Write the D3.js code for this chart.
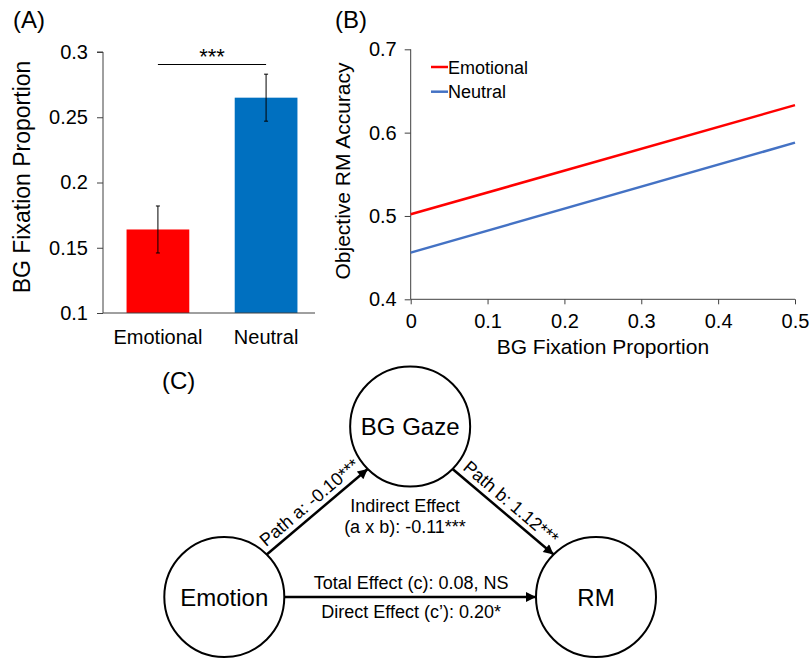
<!DOCTYPE html>
<html>
<head>
<meta charset="utf-8">
<script src="https://cdn.jsdelivr.net/npm/d3@7"></script>
<style>
  body { margin: 0; background: #fff; }
  svg { display: block; font-family: "Liberation Sans", Arial, sans-serif; }
  .domain, .tick line { stroke: #404040; }
  .tick text { fill: #000; }
</style>
</head>
<body>
<svg id="chart"></svg>
<script>
// Panel A data
const barCategories = ['Emotional', 'Neutral'];
const barMeans = [0.164, 0.265];
const barErrors = [0.018, 0.018];
const barColors = ['#FF0000', '#0070C0'];
const barTicks = [0.1, 0.15, 0.2, 0.25, 0.3];
const barSig = '***';

// Panel B data
const lineSeries = ['Emotional', 'Neutral'];
const lineX = [0, 0.5];
const emotionalY = [0.502, 0.633];
const neutralY = [0.456, 0.588];
const lineColors = ['#FF0000', '#4472C4'];
const lineXTicks = [0, 0.1, 0.2, 0.3, 0.4, 0.5];
const lineYTicks = [0.4, 0.5, 0.6, 0.7];

// Panel C data
const nodeNames = ['Emotion', 'BG Gaze', 'RM'];
const nodeCols = [0, 1, 2];
const nodeRows = [1, 0, 1];
const pathLabels = ['Path a: -0.10***', 'Path b: 1.12***'];
const indirectLabels = ['Indirect Effect', '(a x b): -0.11***'];
const totalLabel = 'Total Effect (c): 0.08, NS';
const directLabel = 'Direct Effect (c\u2019): 0.20*';

const W = 811, H = 658;
const svg = d3.select('#chart').attr('width', W).attr('height', H);

svg.append('defs').append('marker')
    .attr('id', 'arrow')
    .attr('viewBox', '0 0 10 10')
    .attr('refX', 10).attr('refY', 5)
    .attr('markerUnits', 'userSpaceOnUse')
    .attr('markerWidth', 12).attr('markerHeight', 10)
    .attr('orient', 'auto')
    .append('path').attr('d', 'M0,0L10,5L0,10z').attr('fill', '#000');

// ---------- (A) bar chart ----------
const gA = svg.append('g');
gA.append('text').attr('x', 13).attr('y', 28).attr('font-size', '24px').text('(A)');

const yA = d3.scaleLinear().domain([0.1, 0.3]).range([313, 52]);
const xA = d3.scaleBand().domain(barCategories).range([106, 318])
    .paddingInner(0.42).paddingOuter(0.19);

gA.selectAll('.bar')
    .data(barCategories)
    .enter().append('rect')
    .attr('x', d => xA(d))
    .attr('width', xA.bandwidth())
    .attr('y', (d, i) => yA(barMeans[i]))
    .attr('height', (d, i) => yA(0.1) - yA(barMeans[i]))
    .attr('fill', (d, i) => barColors[i]);

// error bars
const eb = gA.selectAll('.err').data(barCategories).enter().append('g')
    .attr('stroke', '#000').attr('stroke-width', 1);
eb.append('line')
    .attr('x1', d => xA(d) + xA.bandwidth() / 2).attr('x2', d => xA(d) + xA.bandwidth() / 2)
    .attr('y1', (d, i) => yA(barMeans[i] + barErrors[i]))
    .attr('y2', (d, i) => yA(barMeans[i] - barErrors[i]));
[1, -1].forEach(s => {
    eb.append('line')
        .attr('x1', d => xA(d) + xA.bandwidth() / 2 - 2).attr('x2', d => xA(d) + xA.bandwidth() / 2 + 2)
        .attr('y1', (d, i) => yA(barMeans[i] + s * barErrors[i]))
        .attr('y2', (d, i) => yA(barMeans[i] + s * barErrors[i]));
});

gA.append('g')
    .attr('transform', 'translate(103,0)')
    .call(d3.axisLeft(yA).tickValues(barTicks).tickSize(6).tickPadding(9).tickFormat(d => String(d)))
    .call(g => g.selectAll('text').attr('font-size', '20px').attr('font-family', null))
    .call(g => g.select('.domain').attr('d', `M-6,${yA(0.3)}H0V${yA(0.1)}`));

gA.append('g')
    .attr('transform', `translate(0,${yA(0.1)})`)
    .call(d3.axisBottom(xA).tickSize(0).tickPadding(17))
    .call(g => g.selectAll('text').attr('font-size', '20px').attr('font-family', null))
    .call(g => g.select('.domain').attr('d', 'M103,0H315'));

gA.append('text')
    .attr('transform', `translate(30,177) rotate(-90)`)
    .attr('text-anchor', 'middle')
    .attr('font-size', '23px')
    .text('BG Fixation Proportion');

// significance bracket
const sigX1 = xA(barCategories[0]) + xA.bandwidth() / 2;
const sigX2 = xA(barCategories[1]) + xA.bandwidth() / 2;
gA.append('line')
    .attr('x1', sigX1).attr('x2', sigX2)
    .attr('y1', 64.5).attr('y2', 64.5)
    .attr('stroke', '#000').attr('stroke-width', 1);
gA.append('text')
    .attr('x', (sigX1 + sigX2) / 2).attr('y', 64)
    .attr('text-anchor', 'middle').attr('font-size', '22px')
    .text(barSig);

// ---------- (B) line chart ----------
const gB = svg.append('g');
gB.append('text').attr('x', 335).attr('y', 28).attr('font-size', '24px').text('(B)');

const xB = d3.scaleLinear().domain([0, 0.5]).range([410.7, 795]);
const yB = d3.scaleLinear().domain([0.4, 0.7]).range([299.3, 49.3]);

gB.append('g')
    .attr('transform', `translate(${xB(0)},0)`)
    .call(d3.axisLeft(yB).tickValues(lineYTicks).tickSize(6).tickPadding(8).tickFormat(d => String(d)))
    .call(g => g.selectAll('text').attr('font-size', '20px').attr('font-family', null))
    .call(g => g.select('.domain').attr('d', `M0,${yB(0.7)}V${yB(0.4)}`));

gB.append('g')
    .attr('transform', `translate(0,${yB(0.4)})`)
    .call(d3.axisBottom(xB).tickValues(lineXTicks).tickSize(5).tickPadding(10).tickFormat(d => String(d)))
    .call(g => g.selectAll('text').attr('font-size', '20px').attr('font-family', null))
    .call(g => g.select('.domain').attr('d', `M${xB(0)},0H${xB(0.5)}`));

const lineGen = d3.line().x((d, i) => xB(lineX[i])).y(d => yB(d));
[emotionalY, neutralY].forEach((vals, k) => {
    gB.append('path')
        .attr('d', lineGen(vals))
        .attr('fill', 'none')
        .attr('stroke', lineColors[k])
        .attr('stroke-width', 2.5);
});

// legend
const leg = gB.selectAll('.leg').data(lineSeries).enter().append('g')
    .attr('transform', (d, i) => `translate(431,${67 + i * 24.7})`);
leg.append('line').attr('x1', 0).attr('x2', 17).attr('y1', 0).attr('y2', 0)
    .attr('stroke', (d, i) => lineColors[i]).attr('stroke-width', 2.5);
leg.append('text').attr('x', 17).attr('y', 6.5).attr('font-size', '18px').text(d => d);

gB.append('text')
    .attr('x', (xB(0) + xB(0.5)) / 2).attr('y', 354)
    .attr('text-anchor', 'middle').attr('font-size', '21px')
    .text('BG Fixation Proportion');
gB.append('text')
    .attr('transform', `translate(350,171) rotate(-90)`)
    .attr('text-anchor', 'middle').attr('font-size', '21px')
    .text('Objective RM Accuracy');

// ---------- (C) mediation diagram ----------
const gC = svg.append('g');
gC.append('text').attr('x', 162).attr('y', 389).attr('font-size', '24px').text('(C)');

const colX = d3.scaleLinear().domain([0, 2]).range([224.3, 596]);
const rowY = d3.scaleLinear().domain([0, 1]).range([426.5, 597]);
const R = 60;
const nodes = nodeNames.map((n, i) => ({ name: n, x: colX(nodeCols[i]), y: rowY(nodeRows[i]) }));

gC.selectAll('.node').data(nodes).enter().append('circle')
    .attr('cx', d => d.x).attr('cy', d => d.y).attr('r', R)
    .attr('fill', '#fff').attr('stroke', '#000').attr('stroke-width', 2);
gC.selectAll('.nlabel').data(nodes).enter().append('text')
    .attr('x', d => d.x).attr('y', d => d.y + 8.5)
    .attr('text-anchor', 'middle').attr('font-size', '24px')
    .text(d => d.name);

const d45 = R * Math.SQRT1_2;
const [emo, gaze, rm] = nodes;
const arrows = [
    { x1: emo.x + d45, y1: emo.y - d45, x2: gaze.x - d45, y2: gaze.y + d45, label: pathLabels[0] },
    { x1: gaze.x + d45, y1: gaze.y + d45, x2: rm.x - d45, y2: rm.y - d45, label: pathLabels[1] },
    { x1: emo.x + R, y1: emo.y, x2: rm.x - R, y2: rm.y, label: null }
];
gC.selectAll('.arrow').data(arrows).enter().append('line')
    .attr('x1', d => d.x1).attr('y1', d => d.y1)
    .attr('x2', d => d.x2).attr('y2', d => d.y2)
    .attr('stroke', '#000').attr('stroke-width', 2.5)
    .attr('marker-end', 'url(#arrow)');

arrows.filter(d => d.label).forEach(d => {
    const ang = Math.atan2(d.y2 - d.y1, d.x2 - d.x1) * 180 / Math.PI;
    const mx = (d.x1 + d.x2) / 2, my = (d.y1 + d.y2) / 2;
    gC.append('text')
        .attr('transform', `translate(${mx},${my}) rotate(${ang})`)
        .attr('y', -6)
        .attr('text-anchor', 'middle').attr('font-size', '18px')
        .text(d.label);
});

gC.selectAll('.ind').data(indirectLabels).enter().append('text')
    .attr('x', 405).attr('y', (d, i) => 511.5 + i * 21)
    .attr('text-anchor', 'middle').attr('font-size', '18px')
    .text(d => d);

gC.append('text').attr('x', (emo.x + rm.x) / 2 + 1).attr('y', emo.y - 8)
    .attr('text-anchor', 'middle').attr('font-size', '18px').text(totalLabel);
gC.append('text').attr('x', (emo.x + rm.x) / 2 + 1).attr('y', emo.y + 21)
    .attr('text-anchor', 'middle').attr('font-size', '18px').text(directLabel);
</script>
</body>
</html>
